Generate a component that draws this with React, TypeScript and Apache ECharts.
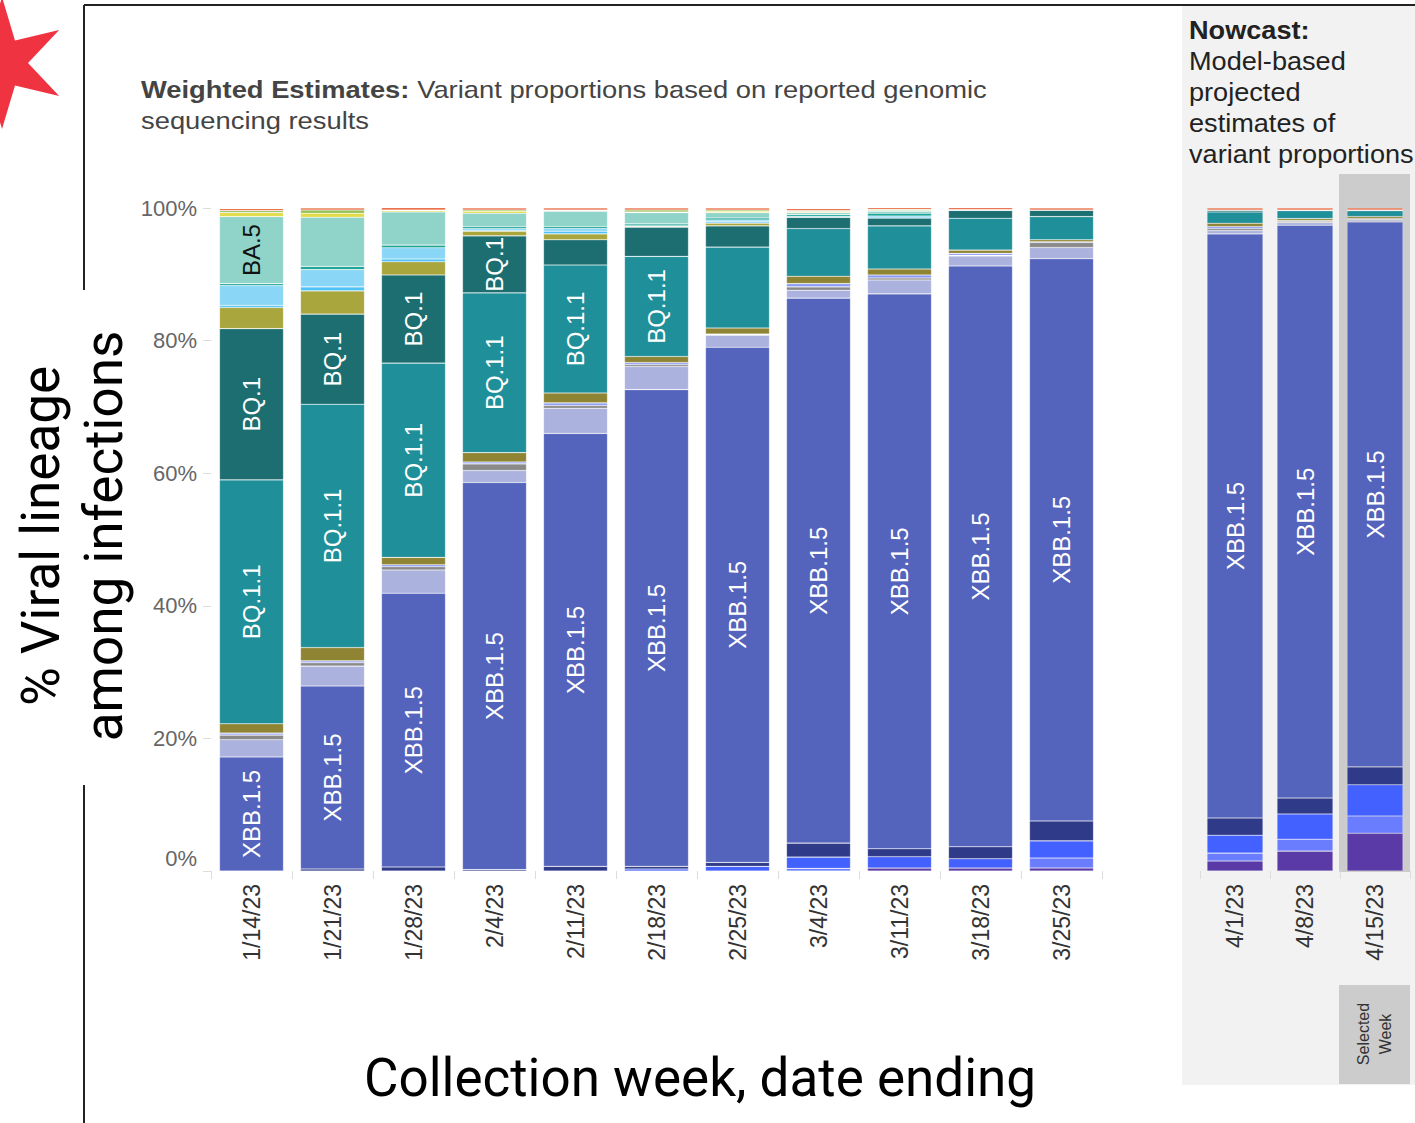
import React, { useEffect, useRef } from "react";
import * as echarts from "echarts";

// ---- categories ----
const weeks = ["1/14/23", "1/21/23", "1/28/23", "2/4/23", "2/11/23", "2/18/23", "2/25/23", "3/4/23", "3/11/23", "3/18/23", "3/25/23"];
const nowcastWeeks = ["4/1/23", "4/8/23", "4/15/23"];
const yTickValues = [0, 20, 40, 60, 80, 100];

// ---- values (%): 11 weighted weeks followed by 3 nowcast weeks ----
const XBB_1_16 = [0, 0, 0, 0, 0, 0, 0, 0, 0.45, 0.45, 0.45, 1.5, 3.0, 5.7];
const XBB_1_9_2 = [0, 0, 0, 0, 0, 0, 0, 0.4, 0, 0, 1.5, 1.2, 1.8, 2.6];
const XBB_1_9_1 = [0, 0, 0, 0, 0, 0.3, 0.7, 1.7, 1.7, 1.4, 2.6, 2.7, 3.8, 4.7];
const XBB_1_5_1 = [0, 0.3, 0.6, 0.2, 0.7, 0.4, 0.6, 2.1, 1.2, 1.8, 3.0, 2.6, 2.4, 2.7];
const XBB_1_5 = [17.2, 27.6, 41.3, 58.4, 65.3, 71.9, 77.7, 82.2, 83.7, 87.6, 84.8, 88.1, 86.4, 82.2];
const XBB = [2.6, 3.0, 3.5, 1.8, 3.8, 3.5, 1.8, 1.2, 2.1, 1.5, 1.7, 0.5, 0.4, 0.3];
const BN_1 = [0.7, 0.5, 0.5, 1.0, 0.4, 0.3, 0.1, 0.5, 0.3, 0.1, 0.75, 0.3, 0.2, 0.1];
const CH_1_1 = [0.3, 0.3, 0.3, 0.3, 0.4, 0.3, 0.1, 0.5, 0.45, 0.3, 0.1, 0.3, 0.1, 0.1];
const BA_2_75 = [1.4, 2.0, 1.1, 1.4, 1.5, 0.9, 0.9, 1.1, 0.9, 0.5, 0.3, 0.5, 0.3, 0.3];
const BQ_1_1 = [36.8, 36.7, 29.3, 24.1, 19.3, 15.1, 12.2, 7.2, 6.5, 4.8, 3.5, 1.7, 1.2, 0.9];
const BQ_1 = [22.8, 13.6, 13.3, 8.6, 3.8, 4.4, 3.2, 1.7, 1.2, 1.2, 1.0, 0.3, 0.1, 0.1];
const BA_4_6 = [3.2, 3.5, 2.0, 0.7, 0.9, 0.1, 0.4, 0, 0, 0, 0, 0, 0, 0];
const BA_5_2_6 = [0.3, 0.6, 0.4, 0.1, 0.4, 0, 0.2, 0, 0, 0, 0, 0, 0, 0];
const BF_7 = [3.0, 2.6, 1.7, 0.3, 0.4, 0.1, 0.3, 0.1, 0.3, 0, 0, 0, 0, 0];
const BF_11 = [0.3, 0.5, 0.4, 0.3, 0.3, 0.3, 0.3, 0.3, 0.4, 0, 0, 0, 0, 0];
const BA_5 = [10.1, 7.4, 5.0, 2.0, 2.3, 1.7, 0.8, 0.3, 0.3, 0.1, 0, 0, 0, 0];
const BA_2 = [0.6, 0.6, 0.2, 0.3, 0.1, 0.1, 0.2, 0.15, 0.1, 0, 0, 0, 0, 0];
const BA_2_12_1 = [0.3, 0.5, 0.1, 0.2, 0.1, 0.3, 0.2, 0.15, 0.2, 0, 0, 0, 0, 0];
const OTHER = [0.3, 0.3, 0.4, 0.3, 0.3, 0.3, 0.3, 0.3, 0.3, 0.3, 0.3, 0.3, 0.3, 0.3];

// stack order, bottom to top
const variantNames = ["XBB.1.16", "XBB.1.9.2", "XBB.1.9.1", "XBB.1.5.1", "XBB.1.5", "XBB", "BN.1", "CH.1.1", "BA.2.75", "BQ.1.1", "BQ.1", "BA.4.6", "BA.5.2.6", "BF.7", "BF.11", "BA.5", "BA.2", "BA.2.12.1", "Other"];
const variantValues = [XBB_1_16, XBB_1_9_2, XBB_1_9_1, XBB_1_5_1, XBB_1_5, XBB, BN_1, CH_1_1, BA_2_75, BQ_1_1, BQ_1, BA_4_6, BA_5_2_6, BF_7, BF_11, BA_5, BA_2, BA_2_12_1, OTHER];
const variantColors = ["#5a3aa6", "#6a7dff", "#4361ff", "#2f3a89", "#5464bc", "#abb2de", "#8a8a8a", "#8e9df5", "#8f8434", "#1f8f99", "#1d6e70", "#a9a63e", "#4ec1f5", "#8ad6f7", "#1aa596", "#8fd3c9", "#e1dc48", "#98c05a", "#e8643a"];

// in-bar label rules: minimum share for a label, and its colour
const labelRules: Record<string, { min: number; color: string }> = {
  "XBB.1.5": { min: 10, color: "#ffffff" },
  "BQ.1.1": { min: 13, color: "#ffffff" },
  "BQ.1": { min: 8, color: "#ffffff" },
  "BA.5": { min: 9, color: "#111111" },
};

const LABEL_FONT = "'Liberation Sans', Arial, sans-serif";

function starPoints(cx: number, cy: number, R: number, r: number, n: number) {
  const pts: number[][] = [];
  for (let i = 0; i < n * 2; i++) {
    const a = (-90 + (i * 180) / n) * (Math.PI / 180);
    const rad = i % 2 === 0 ? R : r;
    pts.push([cx + rad * Math.cos(a), cy + rad * Math.sin(a)]);
  }
  return pts;
}

export default function App() {
  const ref = useRef<HTMLDivElement>(null);

  useEffect(() => {
    document.body.style.margin = "0";
    if (!ref.current) return;
    const chart = echarts.init(ref.current, undefined, { renderer: "svg" });

    const series: any[] = [];
    variantNames.forEach((name, i) => {
      const rule = labelRules[name];
      const label = rule
        ? {
            show: true,
            position: "inside",
            rotate: 90,
            color: rule.color,
            fontSize: 24,
            fontFamily: LABEL_FONT,
            formatter: (p: any) => (p.value >= rule.min ? name : ""),
          }
        : { show: false };
      const common = {
        type: "bar",
        name,
        itemStyle: { color: variantColors[i], borderColor: "rgba(255,255,255,0.35)", borderWidth: 0.6 },
        label,
        emphasis: { disabled: true },
        animation: false,
      };
      series.push({ ...common, stack: "weighted", xAxisIndex: 0, yAxisIndex: 0, barWidth: 64, data: variantValues[i].slice(0, weeks.length) });
      series.push({ ...common, stack: "nowcast", xAxisIndex: 1, yAxisIndex: 1, barWidth: 56, data: variantValues[i].slice(weeks.length) });
    });

    const xAxisCommon = {
      type: "category",
      axisLine: { show: false },
      axisTick: { show: true, length: 8, lineStyle: { color: "#dddddd" } },
      axisLabel: { rotate: 90, interval: 0, fontSize: 23, color: "#333333", margin: 13, fontFamily: LABEL_FONT },
      splitLine: { show: false },
    };

    chart.setOption({
      animation: false,
      backgroundColor: "#ffffff",
      grid: [
        { left: 211, top: 208, width: 891, height: 663 },
        { left: 1200, top: 208, width: 210, height: 663 },
      ],
      xAxis: [
        { ...xAxisCommon, gridIndex: 0, data: weeks },
        { ...xAxisCommon, gridIndex: 1, data: nowcastWeeks },
      ],
      yAxis: [
        {
          type: "value",
          gridIndex: 0,
          min: yTickValues[0],
          max: yTickValues[yTickValues.length - 1],
          interval: 20,
          axisLine: { show: false },
          axisTick: { show: true, length: 8, lineStyle: { color: "#dddddd" } },
          splitLine: { show: false },
          axisLabel: {
            fontSize: 22,
            color: "#666666",
            margin: 14,
            fontFamily: LABEL_FONT,
            formatter: (v: number) => (v === 0 ? "" : v + "%"),
          },
        },
        { type: "value", gridIndex: 1, min: 0, max: 100, show: false },
      ],
      series,
      graphic: [
        { type: "rect", z: -10, shape: { x: 1182, y: 6, width: 233, height: 1079 }, style: { fill: "#f2f2f2" } },
        { type: "rect", z: -9, shape: { x: 1339, y: 174, width: 71, height: 698 }, style: { fill: "#cccccc" } },
        { type: "rect", z: -9, shape: { x: 1339, y: 985, width: 71, height: 99 }, style: { fill: "#cccccc" } },
        {
          type: "text",
          x: 1374,
          y: 1034,
          rotation: Math.PI / 2,
          style: { text: "Selected\nWeek", fontSize: 16, lineHeight: 22, fill: "#333333", align: "center", verticalAlign: "middle", fontFamily: LABEL_FONT },
        },
        { type: "line", shape: { x1: 84, y1: 5, x2: 84, y2: 290 }, style: { stroke: "#222222", lineWidth: 2 } },
        { type: "line", shape: { x1: 84, y1: 785, x2: 84, y2: 1123 }, style: { stroke: "#222222", lineWidth: 2 } },
        { type: "line", shape: { x1: 84, y1: 5, x2: 1415, y2: 5 }, style: { stroke: "#222222", lineWidth: 2 } },
        { type: "polygon", shape: { points: starPoints(2, 63, 66, 26, 6) }, style: { fill: "#ef3340" } },
        {
          type: "text",
          x: 141,
          y: 74,
          scaleX: 1.14,
          style: {
            text: "{b|Weighted Estimates:} Variant proportions based on reported genomic\nsequencing results",
            fontSize: 24,
            lineHeight: 31,
            fill: "#444444",
            fontFamily: LABEL_FONT,
            rich: { b: { fontWeight: "bold", fontSize: 24, fill: "#444444", fontFamily: LABEL_FONT } },
          },
        },
        {
          type: "text",
          x: 1189,
          y: 15,
          scaleX: 1.085,
          style: {
            text: "{b|Nowcast:}\nModel-based\nprojected\nestimates of\nvariant proportions",
            fontSize: 25,
            lineHeight: 31,
            fill: "#222222",
            fontFamily: LABEL_FONT,
            rich: { b: { fontWeight: "bold", fontSize: 25, fill: "#222222", fontFamily: LABEL_FONT } },
          },
        },
        {
          type: "text",
          x: 197,
          y: 858,
          style: { text: "0%", fontSize: 22, fill: "#666666", align: "right", verticalAlign: "middle", fontFamily: LABEL_FONT },
        },
        {
          type: "text",
          x: 72,
          y: 536,
          rotation: Math.PI / 2,
          style: {
            text: "% Viral lineage\namong infections",
            fontSize: 53,
            lineHeight: 63,
            fill: "#000000",
            align: "center",
            verticalAlign: "middle",
            fontFamily: "Roboto, sans-serif",
          },
        },
        {
          type: "text",
          x: 700,
          y: 1078,
          style: {
            text: "Collection week, date ending",
            fontSize: 53,
            fill: "#000000",
            align: "center",
            verticalAlign: "middle",
            fontFamily: "Roboto, sans-serif",
          },
        },
      ],
    });

    return () => chart.dispose();
  }, []);

  return <div ref={ref} style={{ width: 1415, height: 1123 }} />;
}
